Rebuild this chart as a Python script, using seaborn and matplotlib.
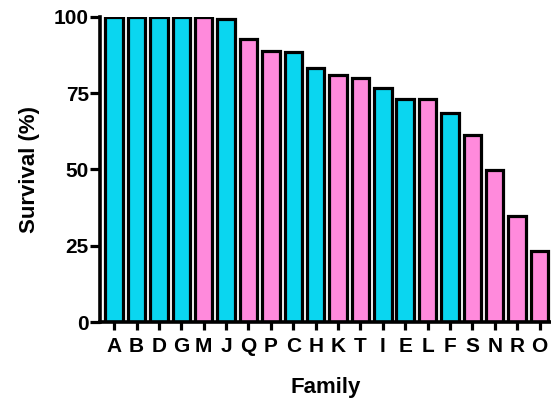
import matplotlib
matplotlib.use('Agg')

import pandas as pd
import matplotlib.pyplot as plt
import seaborn as sns

families = ['A', 'B', 'D', 'G', 'M', 'J', 'Q', 'P', 'C', 'H',
            'K', 'T', 'I', 'E', 'L', 'F', 'S', 'N', 'R', 'O']
survival = [100, 100, 100, 100, 100, 99.2, 92.8, 88.8, 88.5, 83.2,
            80.8, 80.0, 76.7, 73.1, 73.1, 68.6, 61.3, 49.9, 34.9, 23.3]
group = ['cyan', 'cyan', 'cyan', 'cyan', 'pink', 'cyan', 'pink', 'pink', 'cyan', 'cyan',
         'pink', 'pink', 'cyan', 'cyan', 'pink', 'cyan', 'pink', 'pink', 'pink', 'pink']
colors = {'cyan': '#0AD6F0', 'pink': '#FF8ADC'}

df = pd.DataFrame({'Family': families, 'Survival': survival, 'Group': group})

sns.set_style('ticks')
plt.rcParams['font.family'] = ['Liberation Sans', 'DejaVu Sans']
plt.rcParams['font.weight'] = 'bold'

fig = plt.figure(figsize=(5.51, 4.01), dpi=100)
ax = fig.add_axes([0.1815, 0.197, 0.818, 0.761])

sns.barplot(
    data=df, x='Family', y='Survival', hue='Group', order=families,
    palette=colors, dodge=False, legend=False, width=0.78,
    edgecolor='black', linewidth=2.3, saturation=1, ax=ax
)

ax.set_xlim(-0.63, 19.5)
ax.set_ylim(0, 100)
ax.set_yticks([0, 25, 50, 75, 100])
for side in ['top', 'right']:
    ax.spines[side].set_visible(False)
for side in ['left', 'bottom']:
    ax.spines[side].set_linewidth(2.6)
    ax.spines[side].set_color('black')

ax.tick_params(axis='y', length=7, width=2.3, pad=1, labelsize=15, colors='black')
ax.tick_params(axis='x', length=5.5, width=2.3, pad=5.5, labelsize=15, colors='black')
for lbl in ax.get_xticklabels() + ax.get_yticklabels():
    lbl.set_fontweight('bold')

ax.set_xlabel('Family', fontsize=16, fontweight='bold', labelpad=15, color='black')
ax.set_ylabel('Survival (%)', fontsize=16, fontweight='bold', labelpad=10, color='black')

fig.savefig('out.png', dpi=100)
plt.close(fig)
